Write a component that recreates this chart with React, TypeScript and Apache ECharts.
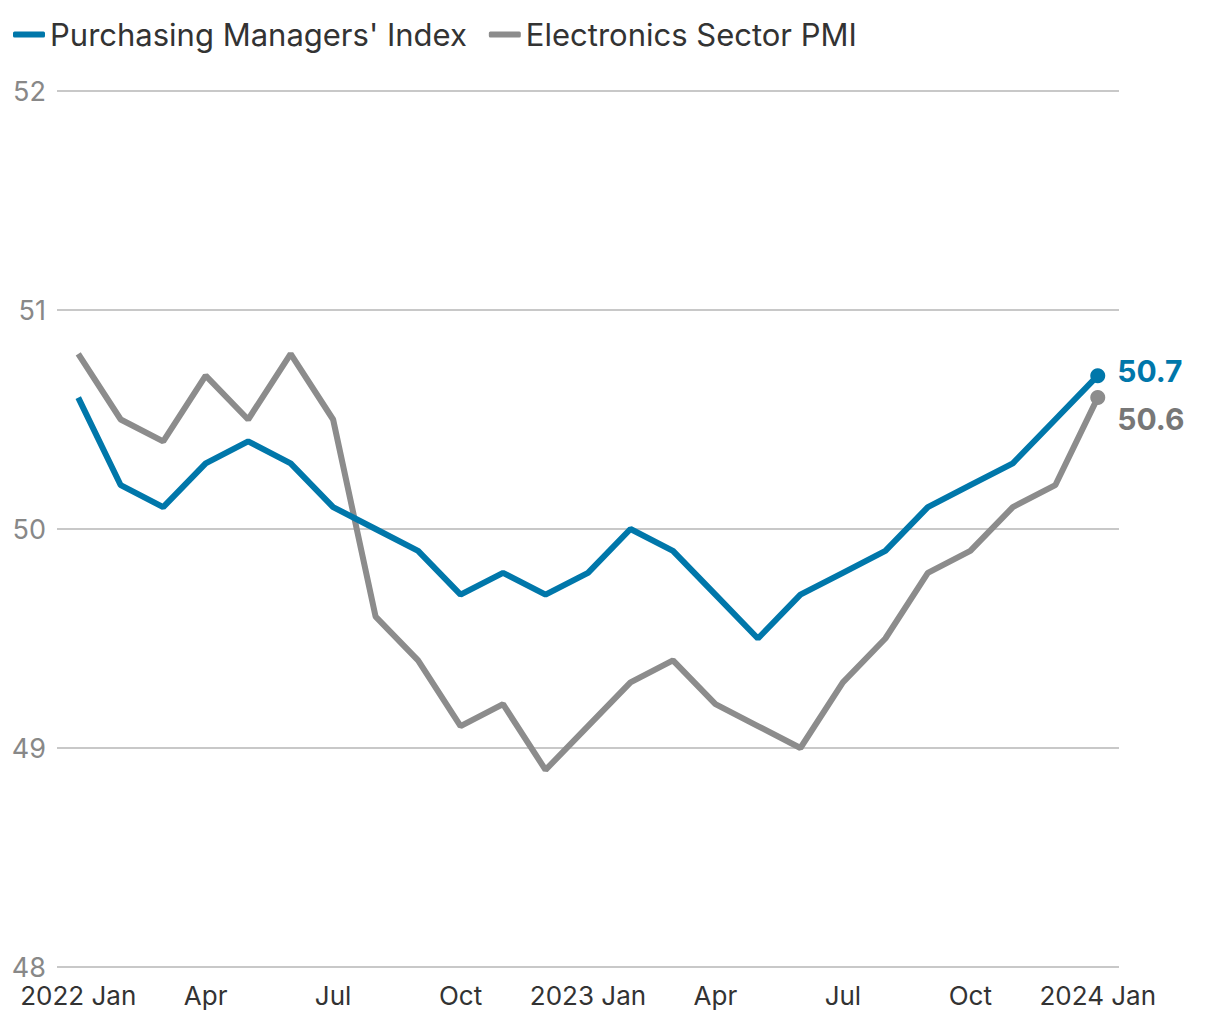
import React, { useEffect, useRef } from "react";
import * as echarts from "echarts";

const categories = [
  "2022 Jan", "Feb", "Mar", "Apr", "May", "Jun", "Jul", "Aug", "Sep", "Oct", "Nov", "Dec",
  "2023 Jan", "Feb", "Mar", "Apr", "May", "Jun", "Jul", "Aug", "Sep", "Oct", "Nov", "Dec",
  "2024 Jan",
];
const pmi = [50.6, 50.2, 50.1, 50.3, 50.4, 50.3, 50.1, 50.0, 49.9, 49.7, 49.8, 49.7,
  49.8, 50.0, 49.9, 49.7, 49.5, 49.7, 49.8, 49.9, 50.1, 50.2, 50.3, 50.5, 50.7];
const electronics = [50.8, 50.5, 50.4, 50.7, 50.5, 50.8, 50.5, 49.6, 49.4, 49.1, 49.2, 48.9,
  49.1, 49.3, 49.4, 49.2, 49.1, 49.0, 49.3, 49.5, 49.8, 49.9, 50.1, 50.2, 50.6];
const seriesNames = ["Purchasing Managers' Index", "Electronics Sector PMI"];
const colors = ["#0077aa", "#8c8c8c"];
const labelColors = ["#0077aa", "#777777"];

function lastPointData(values: number[], idx: number, offsetY: number) {
  return values.map((v, i) =>
    i === values.length - 1
      ? {
          value: v,
          symbol: "circle",
          symbolSize: 15,
          label: {
            show: true,
            position: "right",
            distance: 12,
            offset: [0, offsetY],
            formatter: (p: any) => p.value.toFixed(1),
            color: labelColors[idx],
            fontSize: 30,
            fontWeight: "bold",
            fontFamily: "Inter",
          },
        }
      : { value: v, symbol: "none" }
  );
}

export default function App() {
  const ref = useRef<HTMLDivElement>(null);
  useEffect(() => {
    document.body.style.margin = "0";
    if (!ref.current) return;
    const chart = echarts.init(ref.current, undefined, { renderer: "svg" });
    chart.setOption({
      animation: false,
      textStyle: { fontFamily: "Inter" },
      legend: {
        left: 8,
        top: 14,
        itemWidth: 32,
        itemHeight: 6,
        itemGap: 22,
        icon: "roundRect",
        textStyle: { fontSize: 31, color: "#333", fontFamily: "Inter" },
        data: seriesNames,
      },
      grid: { left: 57, right: 101, top: 91, bottom: 53, containLabel: false },
      xAxis: {
        type: "category",
        data: categories,
        boundaryGap: true,
        axisLine: { show: false },
        axisTick: { show: false },
        axisLabel: { interval: 2, fontSize: 26, color: "#333", margin: 15, fontFamily: "Inter" },
      },
      yAxis: {
        type: "value",
        min: 48,
        max: 52,
        interval: 1,
        splitLine: { lineStyle: { color: "#c8c8c8", width: 2 } },
        axisLabel: { fontSize: 27, color: "#888", margin: 11, fontFamily: "Inter" },
      },
      series: [
        {
          name: seriesNames[0],
          type: "line",
          data: lastPointData(pmi, 0, -5),
          lineStyle: { width: 6, color: colors[0] },
          itemStyle: { color: colors[0] },
          z: 3,
        },
        {
          name: seriesNames[1],
          type: "line",
          data: lastPointData(electronics, 1, 21),
          lineStyle: { width: 6, color: colors[1] },
          itemStyle: { color: colors[1] },
          z: 2,
        },
      ],
    });
    return () => chart.dispose();
  }, []);
  return <div ref={ref} style={{ width: 1220, height: 1020 }} />;
}
